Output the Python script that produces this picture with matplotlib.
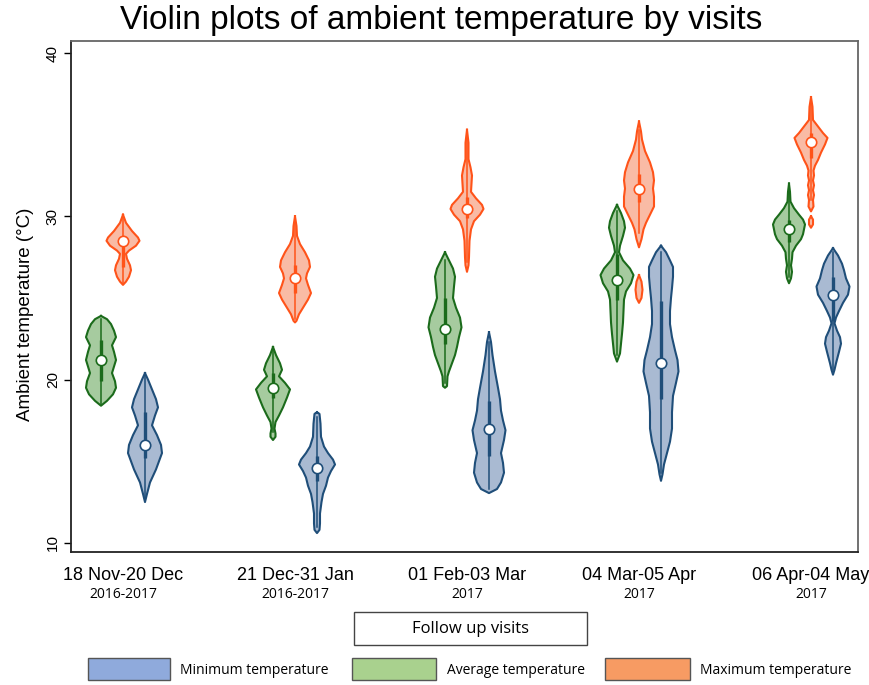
import numpy as np
import matplotlib
matplotlib.use("Agg")
import matplotlib.pyplot as plt
from matplotlib.patches import Rectangle
from matplotlib.transforms import blended_transform_factory

# ---------------- data ----------------
visits = ["18 Nov-20 Dec", "21 Dec-31 Jan", "01 Feb-03 Mar", "04 Mar-05 Apr", "06 Apr-04 May"]
years = ["2016-2017", "2016-2017", "2017", "2017", "2017"]
series_names = ["Minimum temperature", "Average temperature", "Maximum temperature"]

# density profiles: (temperature, relative density)
min_profiles = [
    [(20.4,0),(20.0,3),(19.4,7),(18.8,11),(18.3,13),(17.8,10),(17.2,7),(16.6,12),(16.0,16),(15.5,17),(15.0,14),(14.5,11),(13.7,5),(13.0,2),(12.5,0)],
    [(18.0,0),(17.9,2.5),(17.3,3.5),(16.5,4),(15.9,7),(15.5,11),(15.1,16),(14.8,18),(14.4,14),(14.0,11),(13.5,9),(13.0,6),(12.5,4.5),(11.8,3),(11.2,3),(10.8,2.5),(10.6,0)],
    [(22.9,0),(22.3,2),(21.5,3.5),(20.5,6),(19.5,9),(18.8,11),(18.1,12),(17.5,14),(16.9,16.5),(16.3,15),(15.5,12),(14.9,14),(14.3,15),(13.7,12),(13.3,8),(13.05,0)],
    [(28.2,0),(27.8,5),(27.3,9),(26.9,12),(26.3,12),(25.6,11),(25.0,10),(24.2,9),(23.4,9),(22.6,11),(21.8,14),(21.2,16.5),(20.5,17.5),(19.8,15),(19.0,12),(18.0,11),(17.0,11),(16.2,9),(15.5,6),(14.8,3),(14.2,1.5),(13.8,0)],
    [(28.05,0),(27.6,5),(27.1,9),(26.7,11),(26.2,13),(25.7,16.5),(25.2,15),(24.7,10),(24.2,6),(23.8,3),(23.45,1.5),(23.0,4),(22.6,7),(22.2,8),(21.7,6),(21.0,3),(20.6,1.5),(20.3,0)],
]
avg_profiles = [
    [(23.9,0),(23.7,6),(23.4,10),(23.0,13),(22.6,15),(22.1,11),(21.7,13),(21.2,15),(20.8,13),(20.4,11),(19.9,14),(19.5,15),(19.1,12),(18.7,6),(18.4,0)],
    [(22.0,0),(21.5,3),(21.0,7),(20.6,9),(20.2,6),(19.8,12),(19.4,17),(18.9,14),(18.3,10),(17.8,6),(17.4,2.5),(17.0,1.5),(16.7,2.5),(16.5,2.5),(16.3,0)],
    [(27.8,0),(27.3,4),(26.8,8),(26.3,10),(25.7,9),(25.0,8),(24.4,11),(23.8,15),(23.2,16.5),(22.6,14),(22.0,12),(21.5,10),(21.0,7),(20.5,4),(20.2,2.5),(19.6,2),(19.5,0)],
    [(30.7,0),(30.2,4),(29.7,7),(29.3,8),(28.8,6),(28.2,3),(27.8,2),(27.3,6),(26.8,13),(26.4,16.5),(25.9,14),(25.4,9),(24.9,7),(24.2,6.5),(23.5,6),(22.8,5),(22.2,4),(21.6,3),(21.1,0)],
    [(32.0,0),(31.5,1),(30.9,1.5),(30.5,5),(30.1,10),(29.8,14),(29.5,16),(29.2,15),(28.9,14),(28.6,12),(28.2,7),(27.8,3.5),(27.4,3),(27.0,2),(26.6,3),(26.2,2),(25.9,0)],
]
max_profiles = [
    [(30.1,0),(29.6,3),(29.1,9),(28.7,15),(28.5,16.5),(28.2,13),(27.9,6),(27.7,3),(27.4,4),(27.0,7),(26.7,8),(26.3,6),(26.0,3),(25.8,0)],
    [(30.0,0),(29.4,1.5),(28.8,2),(28.3,5),(27.8,10),(27.3,14),(26.9,15),(26.5,12),(26.2,11),(25.8,13),(25.3,16),(24.9,13),(24.4,8),(24.0,4),(23.6,1.5),(23.5,0)],
    [(35.3,0),(34.5,1.5),(33.5,1.5),(33.0,3.5),(32.5,5),(32.0,4.5),(31.5,4),(31.1,9),(30.7,15),(30.45,16.5),(30.1,13),(29.7,7),(29.2,4),(28.5,2.5),(27.5,2),(27.0,1.5),(26.6,0)],
    [(35.8,0),(35.2,2),(34.7,3),(34.0,6),(33.3,11),(32.7,14),(32.2,15),(31.7,14),(31.2,15),(30.6,15),(30.1,11),(29.6,7),(29.2,4.5),(28.6,2.5),(28.1,0),
     (26.4,0),(26.0,2.5),(25.5,3.5),(25.0,2.5),(24.7,0)],
    [(37.3,0),(36.7,1.5),(35.9,2),(35.5,7),(35.1,12),(34.8,16.5),(34.4,14),(33.9,10),(33.45,7),(33.1,4),(32.8,2.5),(32.5,3),(32.2,2),(31.9,3),(31.6,2),(31.3,3),(31.0,2),(30.6,2.5),(30.3,0),
     (30.0,0),(29.8,2),(29.5,2),(29.3,0)],
]

# summary stats: median, q1, q3, lower adjacent, upper adjacent
min_stats = [(16.0,15.2,18.0,12.7,20.2),(14.6,13.8,15.3,11.0,17.7),(17.0,15.3,18.7,13.3,22.3),(21.0,18.8,24.8,14.3,27.8),(25.2,23.6,26.3,20.6,27.8)]
avg_stats = [(21.2,19.9,22.4,18.5,23.7),(19.5,18.9,20.4,16.8,21.8),(23.1,22.2,25.0,19.8,27.3),(26.1,24.9,27.7,21.5,30.3),(29.2,28.4,29.8,26.3,31.6)]
max_stats = [(28.5,26.9,28.7,25.9,29.9),(26.2,25.3,27.0,23.7,29.5),(30.45,29.9,31.2,27.2,34.8),(31.7,30.9,32.6,29.0,35.3),(34.55,33.6,35.1,31.0,36.9)]

yticks = [10, 20, 30, 40]

# ---------------- style / layout ----------------
W, H = 870, 685
fig = plt.figure(figsize=(W/100, H/100), dpi=100)
def fx(x): return x / W
def fy(y): return 1 - y / H

ax = fig.add_axes([fx(71), fy(552), fx(858) - fx(71), fy(41) - fy(552)])
PXU = 1 / 172.0  # x-units per pixel
ax.set_xlim(1 - 52 * PXU, 5 + 47 * PXU)
ax.set_ylim(40 - (552 - 53) / 16.33, 40 + 12 / 16.33)

styles = {
    "min": dict(edge="#1F4E79", fill="#A9BAD2", off=22),
    "avg": dict(edge="#1B6B1B", fill="#A6CB9F", off=-22),
    "max": dict(edge="#FF5319", fill="#F9BBA5", off=0),
}

def draw_violin(xc, prof, stats, st):
    arr = np.array(prof, dtype=float)
    ys, ws = arr[:, 0], arr[:, 1] * PXU
    segs, cur = [], [0]
    for i in range(1, len(ys)):
        if ws[i] == 0 and ws[i - 1] == 0 and len(cur) > 1:
            segs.append(cur); cur = [i]
        else:
            cur.append(i)
    segs.append(cur)
    for s in segs:
        y, w = ys[s], ws[s]
        ax.fill_betweenx(y, xc - w, xc + w, facecolor=st["fill"], edgecolor="none", zorder=2)
        xs = np.concatenate([xc - w, (xc + w)[::-1]])
        yy = np.concatenate([y, y[::-1]])
        ax.plot(xs, yy, color=st["edge"], lw=1.5, zorder=3, solid_joinstyle="round")
    med, q1, q3, lo, hi = stats
    ax.plot([xc, xc], [lo, hi], color=st["edge"], lw=1.1, zorder=4)
    ax.plot([xc, xc], [q1, q3], color=st["edge"], lw=2.4, zorder=4, solid_capstyle="butt")
    ax.plot([xc], [med], marker="o", ms=7.5, mfc="white", mec=st["edge"], mew=1.2, zorder=5)

positions = np.arange(1, len(visits) + 1)
for i, p in enumerate(positions):
    draw_violin(p + styles["avg"]["off"] * PXU, avg_profiles[i], avg_stats[i], styles["avg"])
    draw_violin(p + styles["max"]["off"] * PXU, max_profiles[i], max_stats[i], styles["max"])
    draw_violin(p + styles["min"]["off"] * PXU, min_profiles[i], min_stats[i], styles["min"])

sans = ["Liberation Sans", "DejaVu Sans"]
narrow = ["Open Sans", "Liberation Sans", "DejaVu Sans"]

ax.set_yticks(yticks)
ax.set_yticklabels([str(t) for t in yticks], rotation=90, va="center", fontsize=11, family=sans)
ax.tick_params(axis="y", length=5, width=1, pad=3)
ax.set_xticks(positions)
ax.set_xticklabels(visits, fontsize=13, family=sans)
ax.tick_params(axis="x", length=0, pad=11)
ax.set_ylabel("Ambient temperature (°C)", fontsize=13.5, family=sans)
ax.yaxis.set_label_coords(-0.047, 0.465)

for sp in ["left", "bottom"]:
    ax.spines[sp].set_linewidth(1.3)
    ax.spines[sp].set_color("#222222")
for sp in ["top", "right"]:
    ax.spines[sp].set_linewidth(1.3)
    ax.spines[sp].set_color("#666666")

trans = blended_transform_factory(ax.transData, fig.transFigure)
for p, yr in zip(positions, years):
    ax.text(p, fy(594), yr, transform=trans, ha="center", va="center", fontsize=10, family=narrow)

fig.text(fx(441), fy(21), "Violin plots of ambient temperature by visits", ha="center", va="center",
         fontsize=24, family=sans)

# "Follow up visits" box
fig.add_artist(Rectangle((fx(354), fy(645)), fx(587) - fx(354), fy(612) - fy(645), transform=fig.transFigure,
                         facecolor="white", edgecolor="#444444", lw=1.0))
fig.text(fx(471), fy(629), "Follow up visits", ha="center", va="center", fontsize=12, family=narrow)

# legend
leg_fill = ["#8FAADC", "#A9D18E", "#F79B63"]
leg_box = [(88, 170), (352, 436), (605, 690)]
leg_text_x = [180, 447, 700]
for (x0, x1), c, tx, name in zip(leg_box, leg_fill, leg_text_x, series_names):
    fig.add_artist(Rectangle((fx(x0), fy(680)), fx(x1) - fx(x0), fy(658) - fy(680), transform=fig.transFigure,
                             facecolor=c, edgecolor="#555555", lw=1.0))
    fig.text(fx(tx), fy(670), name, ha="left", va="center", fontsize=10, family=narrow)

fig.savefig("out.png", dpi=100)
